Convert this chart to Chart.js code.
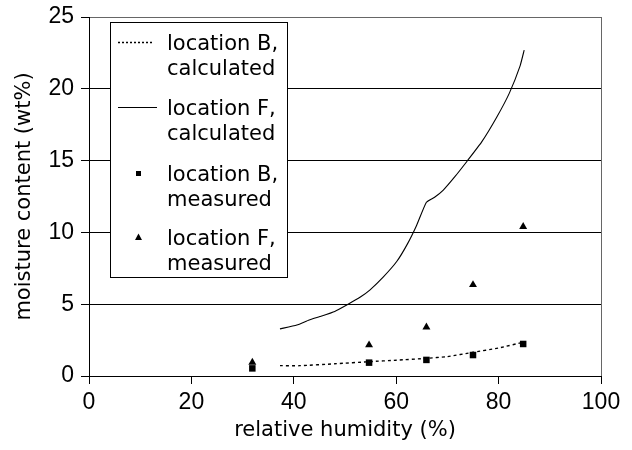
<!DOCTYPE html>
<html lang="en">
<head>
  <meta charset="UTF-8">
  <title>moisture content</title>
  <script src="https://cdn.jsdelivr.net/npm/chart.js"></script>
  <style>
    body { margin: 0; background: #fff; }
    #wrap { width: 632px; height: 450px; }
  </style>
</head>
<body>
  <div id="wrap"><canvas id="id_grafico" width="632" height="450"></canvas></div>

<script>
// values
var fCalcX = [37.3, 40.6, 43.0, 45.1, 48.0, 50.6, 53.0, 54.9, 57.5, 60.1, 62.2, 64.0, 65.9, 67.5, 69.2, 71.5, 73.8, 76.7, 79.6, 82.1, 84.2, 85.0];
var fCalcY = [3.28, 3.55, 3.9, 4.14, 4.5, 5.0, 5.5, 6.0, 6.9, 7.97, 9.2, 10.5, 12.1, 12.45, 12.95, 13.9, 14.94, 16.3, 18.0, 19.7, 21.6, 22.7];

var bCalcX = [37.3, 41.2, 48.0, 54.9, 60.0, 65.9, 70.0, 75.0, 80.0, 84.8];
var bCalcY = [0.72, 0.72, 0.85, 1.0, 1.1, 1.23, 1.35, 1.65, 1.95, 2.35];

var measX = [31.9, 54.7, 65.9, 75.0, 84.8];
var bMeasY = [0.53, 0.93, 1.12, 1.46, 2.23];
var fMeasY = [0.95, 2.16, 3.4, 6.35, 10.4];

var legendLabels = [
  ['location B,', 'calculated'],
  ['location F,', 'calculated'],
  ['location B,', 'measured'],
  ['location F,', 'measured']
];

function pares(xs, ys) {
  var out = [];
  for (var i = 0; i < xs.length; i++) out.push({ x: xs[i], y: ys[i] });
  return out;
}

var fonteTexto = 'DejaVu Sans';
var fonteTicks = 'Liberation Sans';

// legend drawn by hand (two-line labels, boxed)
var legendaBox = {
  id: 'legendaBox',
  afterDraw: function (chart) {
    var ctx = chart.ctx;
    ctx.save();
    ctx.fillStyle = '#fff';
    ctx.fillRect(110, 22, 177, 255);
    ctx.strokeStyle = '#000';
    ctx.lineWidth = 1;
    ctx.strokeRect(110.5, 22.5, 177, 255);

    ctx.font = '21px ' + fonteTexto;
    ctx.fillStyle = '#000';
    ctx.textBaseline = 'alphabetic';
    ctx.textAlign = 'left';
    var base = [50, 115, 181, 245];
    for (var i = 0; i < legendLabels.length; i++) {
      ctx.fillText(legendLabels[i][0], 167, base[i]);
      ctx.fillText(legendLabels[i][1], 167, base[i] + 25);
      var sy = base[i] - 8;
      ctx.beginPath();
      if (i === 0) {
        ctx.setLineDash([2, 2]);
        ctx.lineWidth = 1.3;
        ctx.moveTo(118, sy + 0.5); ctx.lineTo(154, sy + 0.5);
        ctx.stroke();
        ctx.setLineDash([]);
      } else if (i === 1) {
        ctx.lineWidth = 1.2;
        ctx.moveTo(118, sy + 0.5); ctx.lineTo(157, sy + 0.5);
        ctx.stroke();
      } else if (i === 2) {
        ctx.fillRect(136, sy - 2, 5, 5);
      } else {
        ctx.moveTo(138.5, sy - 3.5); ctx.lineTo(142, sy + 3); ctx.lineTo(135, sy + 3);
        ctx.closePath();
        ctx.fill();
      }
    }
    ctx.restore();
  }
};

var ctx = document.getElementById('id_grafico').getContext('2d');
var grafico = new Chart(ctx, {
  type: 'scatter',
  data: {
    datasets: [
      {
        label: 'location B, calculated',
        data: pares(bCalcX, bCalcY),
        showLine: true,
        borderColor: '#000',
        borderWidth: 1.4,
        borderDash: [3, 3],
        pointRadius: 0,
        tension: 0.2
      },
      {
        label: 'location F, calculated',
        data: pares(fCalcX, fCalcY),
        showLine: true,
        borderColor: '#000',
        borderWidth: 1.1,
        pointRadius: 0,
        tension: 0.15
      },
      {
        label: 'location B, measured',
        data: pares(measX, bMeasY),
        pointStyle: 'rect',
        pointRadius: 4.6,
        backgroundColor: '#000',
        borderColor: '#000',
        borderWidth: 0
      },
      {
        label: 'location F, measured',
        data: pares(measX, fMeasY),
        pointStyle: 'triangle',
        pointRadius: 4.6,
        backgroundColor: '#000',
        borderColor: '#000',
        borderWidth: 0
      }
    ]
  },
  options: {
    responsive: false,
    animation: false,
    layout: { padding: { top: 17, right: 31, left: 0, bottom: 0 } },
    plugins: {
      legend: { display: false },
      tooltip: { enabled: false }
    },
    scales: {
      x: {
        type: 'linear',
        min: 0,
        max: 100,
        ticks: { stepSize: 20, color: '#000', padding: 5, font: { family: fonteTicks, size: 23 } },
        grid: {
          color: function (c) { return c.tick && c.tick.value === 100 ? '#666' : 'rgba(0,0,0,0)'; },
          tickColor: '#000',
          tickLength: 8,
          lineWidth: 1
        },
        border: { color: '#000', width: 1 },
        title: {
          display: true,
          text: 'relative humidity (%)',
          color: '#000',
          font: { family: fonteTexto, size: 21 },
          padding: { top: 0, bottom: 7 }
        },
        afterFit: function (scale) { scale.height = 74; }
      },
      y: {
        type: 'linear',
        min: 0,
        max: 25,
        ticks: { stepSize: 5, color: '#000', padding: 7, font: { family: fonteTicks, size: 23 } },
        grid: {
          color: function (c) { return c.tick && c.tick.value === 25 ? '#666' : '#000'; },
          tickColor: '#000',
          tickLength: 8,
          lineWidth: 1
        },
        border: { color: '#000', width: 1 },
        title: {
          display: true,
          text: 'moisture content (wt%)',
          color: '#000',
          font: { family: fonteTexto, size: 21 },
          padding: { top: 12, bottom: 0 }
        },
        afterFit: function (scale) {
          scale.width = 89;
          scale.paddingTop = 0;
          scale.paddingBottom = 0;
        }
      }
    }
  },
  plugins: [legendaBox]
});
</script>
</body>
</html>
